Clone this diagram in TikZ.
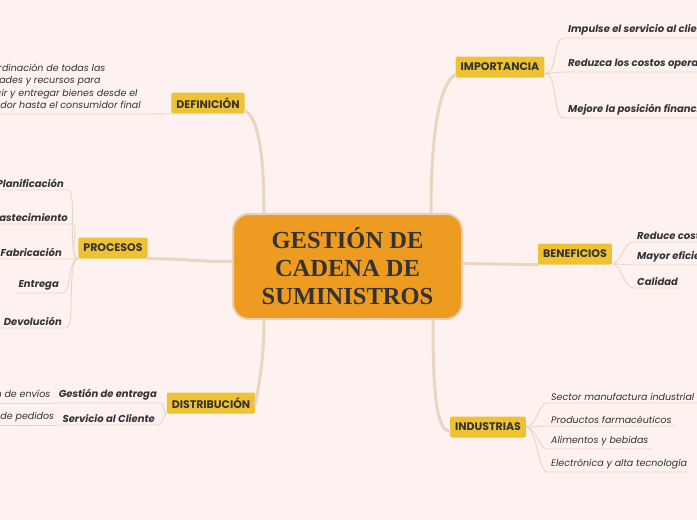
\documentclass[tikz,border=0pt]{standalone}
\usepackage{fontspec}
\setmainfont{Poppins}
\newfontfamily\titlefont{Liberation Serif}
\usepackage{xcolor}
\usetikzlibrary{
    positioning,
    calc
}
\definecolor{paper}{HTML}{FDF2EF}
\definecolor{twigcol}{HTML}{EAD5C2}
\definecolor{hubfill}{HTML}{EE9B22}
\definecolor{hubborder}{HTML}{E9CDB5}
\definecolor{tagfill}{HTML}{EFC233}
\definecolor{ink}{HTML}{333333}
\tikzset{%
    % Specifications for style of nodes:
    hub/.style = {
        rectangle, rounded corners=16pt, draw=hubborder, line width=2pt,
        fill=hubfill, minimum width=229pt, minimum height=105pt,
        align=center, text=ink,
        font=\titlefont\bfseries\fontsize{24.5}{28}\selectfont
    },
    tag/.style = {
        rectangle, rounded corners=2pt, fill=tagfill,
        minimum height=21pt, inner xsep=5pt, text=ink,
        font=\bfseries\fontsize{11}{12}\selectfont
    },
    leaf/.style = {inner xsep=4pt, inner ysep=2.5pt, text=ink,
        font=\bfseries\itshape\fontsize{10}{12}\selectfont},
    plainleaf/.style = {leaf, font=\itshape\fontsize{9.5}{12}\selectfont},
    note/.style = {plainleaf, align=left,
        font=\itshape\fontsize{9.5}{12.5}\selectfont},
    % Specifications for style of paths:
    trunk/.style = {draw=twigcol, line width=3pt, line cap=round},
    twig/.style = {draw=twigcol, line width=0.9pt}
}

\begin{document}
\begin{tikzpicture}[x=1pt, y=-1pt]
\useasboundingbox (0,0) rectangle (697,520);
\clip (0,0) rectangle (697,520);
\fill[paper] (0,0) rectangle (697,520);
% Specification of nodes (position, etc.)
\node (hub)   [hub] at (347.5,266.5) {GESTIÓN DE\\CADENA DE\\SUMINISTROS};
\node (defi)  [tag] at (208,103) {DEFINICIÓN};
\node (proc)  [tag] at (113,248) {PROCESOS};
\node (dist)  [tag] at (211,403) {DISTRIBUCIÓN};
\node (impo)  [tag] at (500,67) {IMPORTANCIA};
\node (bene)  [tag] at (575,254) {BENEFICIOS};
\node (indu)  [tag] at (488,427) {INDUSTRIAS};
% definition
\node (defitext) [note, anchor=south west] at (-37,114) {La coordinación de todas las\\actividades y recursos para\\producir y entregar bienes desde el\\proveedor hasta el consumidor final};
% processes
\node (plan)  [leaf, anchor=south east] at (68,190) {Planificación};
\node (abas)  [leaf, anchor=south east] at (72,224) {Abastecimiento};
\node (fabr)  [leaf, anchor=south east] at (66,259) {Fabricación};
\node (entr)  [leaf, anchor=south east] at (63,293) {Entrega};
\node (devo)  [leaf, anchor=south east] at (66,328) {Devolución};
% distribution
\node (gest)  [leaf, anchor=south east] at (161,403) {Gestión de entrega};
\node (serv)  [leaf, anchor=south east] at (159,425) {Servicio al Cliente};
\node (envi)  [plainleaf, anchor=south east] at (gest.south west) {Optimización de envíos};
\node (pedi)  [plainleaf, anchor=south east] at (serv.south west) {Seguimiento de pedidos};
% importance
\node (imp1)  [leaf, anchor=south west] at (564,38) {Impulse el servicio al cliente};
\node (imp2)  [leaf, anchor=south west] at (564,72) {Reduzca los costos operativos};
\node (imp3)  [leaf, anchor=south west] at (564,118) {Mejore la posición financiera};
% benefits
\node (ben1)  [leaf, anchor=south west] at (633,242) {Reduce costos};
\node (ben2)  [leaf, anchor=south west] at (633,265) {Mayor eficiencia};
\node (ben3)  [leaf, anchor=south west] at (633,288) {Calidad};
% industries
\node (ind1)  [plainleaf, anchor=south west] at (547,403) {Sector manufactura industrial};
\node (ind2)  [plainleaf, anchor=south west] at (547,426) {Productos farmacéuticos};
\node (ind3)  [plainleaf, anchor=south west] at (547,449) {Alimentos y bebidas};
\node (ind4)  [plainleaf, anchor=south west] at (547,472) {Electrónica y alta tecnología};
% Specification of paths
\draw[trunk] ([xshift=32pt]hub.north west) .. controls +(0,-55) and +(14,6) .. ([yshift=3pt]defi.south east);
\draw[trunk] (proc.south east) .. controls +(40,0) and +(-40,0) .. ([yshift=5pt]hub.west);
\draw[trunk] ([xshift=32pt]hub.south west) .. controls +(0,40) and +(4,-25) .. ([yshift=-2pt]dist.east);
\draw[trunk] ([xshift=-32pt]hub.north east) .. controls +(0,-90) and +(-14,8) .. ([yshift=3pt]impo.south west);
\draw[trunk] ([yshift=3pt]hub.east) -- (bene.south west);
\draw[trunk] ([xshift=-30pt]hub.south east) .. controls +(0,70) and +(-14,0) .. ([yshift=-4pt]indu.west);
% definition
\draw[twig] (defi.south west) -- (defitext.south east) -- (defitext.south west);
% processes
\draw[twig] (proc.south west) .. controls +(-12,0) and +(10,0) .. (plan.south east) -- (plan.south west);
\draw[twig] (proc.south west) .. controls +(-10,0) and +(8,0) .. (abas.south east) -- (abas.south west);
\draw[twig] (proc.south west) -- (fabr.south east) -- (fabr.south west);
\draw[twig] (proc.south west) .. controls +(-10,0) and +(8,0) .. (entr.south east) -- (entr.south west);
\draw[twig] (proc.south west) .. controls +(-12,0) and +(10,0) .. (devo.south east) -- (devo.south west);
% distribution
\draw[twig] (dist.south west) .. controls +(-3,0) and +(3,0) .. (gest.south east) -- (gest.south west);
\draw[twig] (dist.south west) .. controls +(-3,0) and +(3,0) .. (serv.south east) -- (serv.south west);
\draw[twig] (gest.south west) -- (envi.south east) -- (envi.south west);
\draw[twig] (serv.south west) -- (pedi.south east) -- (pedi.south west);
% importance
\draw[twig] ([yshift=4pt]impo.south east) .. controls +(14,0) and +(-12,0) .. (imp1.south west) -- (imp1.south east);
\draw[twig] ([yshift=4pt]impo.south east) .. controls +(10,0) and +(-10,0) .. (imp2.south west) -- (imp2.south east);
\draw[twig] ([yshift=4pt]impo.south east) .. controls +(14,0) and +(-12,0) .. (imp3.south west) -- (imp3.south east);
% benefits
\draw[twig] ([yshift=1pt]bene.south east) .. controls +(9,0) and +(-9,0) .. (ben1.south west) -- (ben1.south east);
\draw[twig] ([yshift=1pt]bene.south east) -- (ben2.south west) -- (ben2.south east);
\draw[twig] ([yshift=1pt]bene.south east) .. controls +(9,0) and +(-9,0) .. (ben3.south west) -- (ben3.south east);
% industries
\draw[twig] (indu.east) .. controls +(10,0) and +(-8,0) .. (ind1.south west) -- (ind1.south east);
\draw[twig] (indu.east) .. controls +(10,0) and +(-8,0) .. (ind2.south west) -- (ind2.south east);
\draw[twig] (indu.east) .. controls +(10,0) and +(-8,0) .. (ind3.south west) -- (ind3.south east);
\draw[twig] (indu.east) .. controls +(10,0) and +(-8,0) .. (ind4.south west) -- (ind4.south east);
\end{tikzpicture}
\end{document}
